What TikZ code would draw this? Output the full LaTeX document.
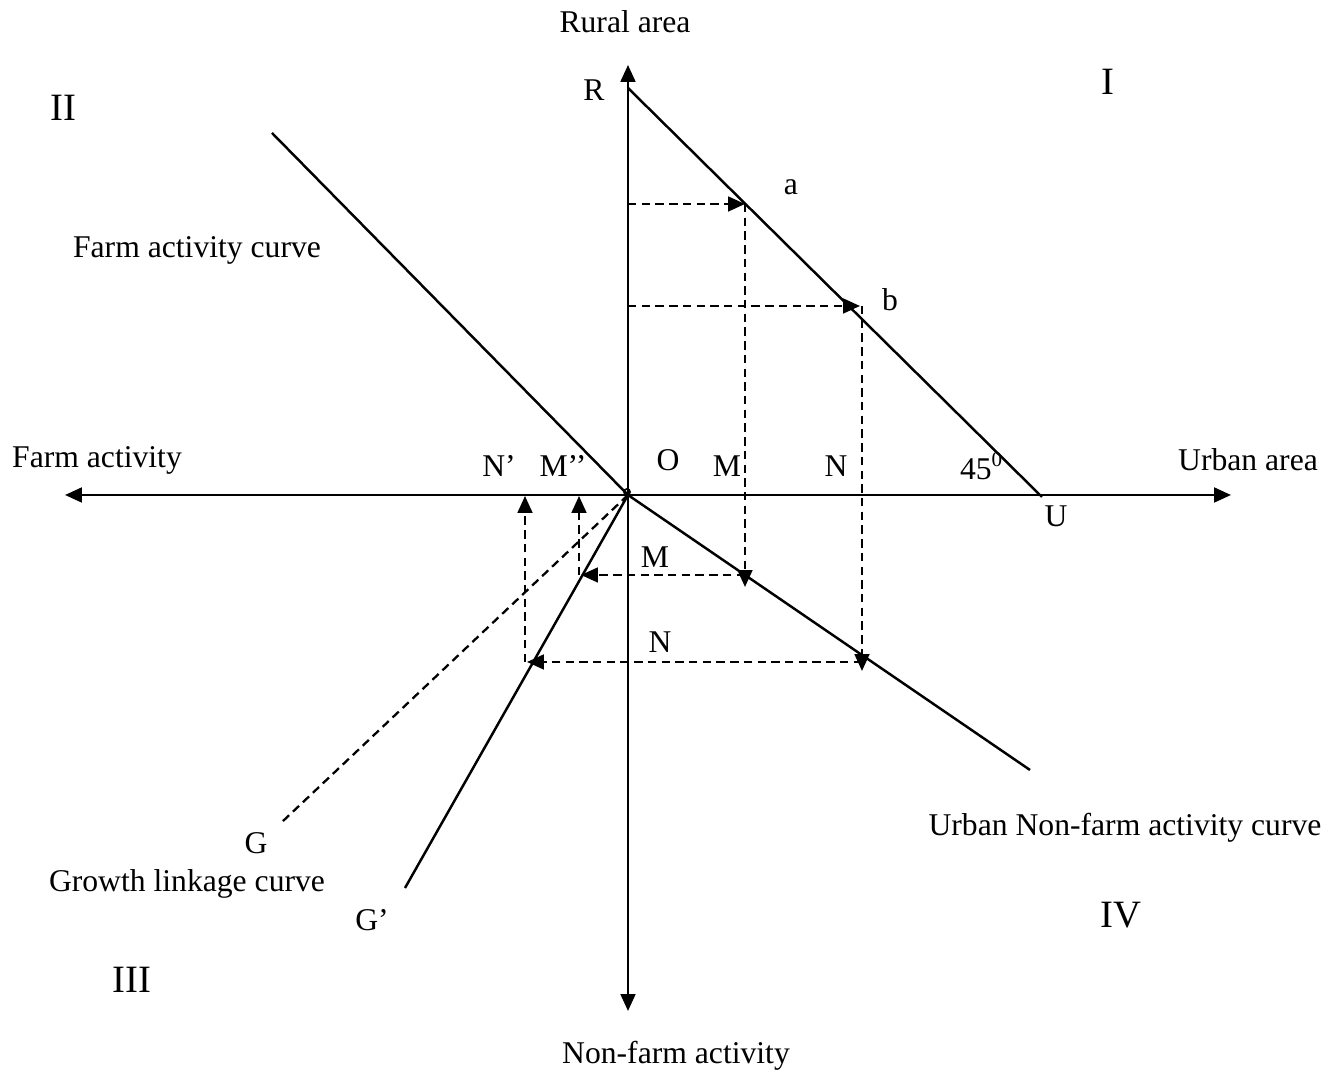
\documentclass[tikz,border=0pt]{standalone}
\usepackage{fontspec}
\setmainfont{Liberation Serif}
\usetikzlibrary{arrows.meta}
\begin{document}
\begin{tikzpicture}[x=0.01cm,y=-0.01cm,>={Triangle[length=4.8pt,width=4.2pt]},
  axis/.style={line width=0.7pt,<->},
  curve/.style={line width=0.7pt},
  guide/.style={line width=0.65pt,dash pattern=on 2.4pt off 1.5pt},
  lbl/.style={font=\fontsize{9}{11}\selectfont,inner sep=0pt},
  quad/.style={font=\fontsize{11}{13}\selectfont,inner sep=0pt}]
  \useasboundingbox (0,0) rectangle (1344,1077);
  % axes
  \coordinate (O) at (628,495);
  \coordinate (top) at (628,65);
  \coordinate (bot) at (628,1011);
  \coordinate (lft) at (65,495);
  \coordinate (rgt) at (1231,495);
  \draw[axis] (top) -- (bot);
  \draw[axis] (lft) -- (rgt);
  \draw[line width=0.5pt] (O) ++(-1,-3) circle (3);
  % curves
  \coordinate (R) at (628,88);
  \coordinate (U) at (1042,497);
  \coordinate (F) at (272,133);
  \coordinate (D) at (1030,770);
  \coordinate (G) at (282,822);
  \coordinate (Gp) at (405,888);
  \draw[curve] (R) -- (U);
  \draw[curve] (F) -- (O) -- (D);
  \draw[curve] (O) -- (Gp);
  \draw[guide] (O) -- (G);
  % point a
  \coordinate (ya) at (628,204);
  \coordinate (a) at (745,204);
  \coordinate (am) at (745,587);
  \coordinate (ma) at (745,575);
  \coordinate (ml) at (581,575);
  \coordinate (mb) at (579,575);
  \coordinate (mt) at (579,496);
  \draw[guide,->] (ya) -- (a);
  \draw[guide,->] (a) -- (am);
  \draw[guide,->] (ma) -- (ml);
  \draw[guide,->] (mb) -- (mt);
  % point b
  \coordinate (yb) at (628,306);
  \coordinate (b) at (860,306);
  \coordinate (bs) at (862,306);
  \coordinate (bn) at (862,671);
  \coordinate (na) at (862,662);
  \coordinate (nl) at (527,662);
  \coordinate (nb) at (525,662);
  \coordinate (nt) at (525,496);
  \draw[guide,->] (yb) -- (b);
  \draw[guide,->] (bs) -- (bn);
  \draw[guide,->] (na) -- (nl);
  \draw[guide,->] (nb) -- (nt);
  % labels
  \node[lbl] (lrural) at (625,22) {Rural area};
  \node[lbl] (lnonfarm) at (676,1056) {Non-farm activity};
  \node[lbl] (lfarm) at (97,460) {Farm activity};
  \node[lbl] (lurban) at (1248,460) {Urban area};
  \node[quad] (q1) at (1108,82) {I};
  \node[quad] (q2) at (63,108) {II};
  \node[quad] (q3) at (132,980) {III};
  \node[quad] (q4) at (1121,915) {IV};
  \node[lbl] (lfc) at (197,250) {Farm activity curve};
  \node[lbl] (luc) at (1125,828) {Urban Non-farm activity curve};
  \node[lbl] (lgc) at (187,884) {Growth linkage curve};
  \node[lbl] (lG) at (256,843) {G};
  \node[lbl] (lGp) at (372,920) {G’};
  \node[lbl] (lNp) at (499,466) {N’};
  \node[lbl] (lMpp) at (563,466) {M’’};
  \node[lbl] (lO) at (668,460) {O};
  \node[lbl] (lM) at (727,466) {M};
  \node[lbl] (lN) at (836,466) {N};
  \node[lbl] (l45) at (982,466) {45\textsuperscript{0}};
  \node[lbl] (lR) at (594,90) {R};
  \node[lbl] (lU) at (1056,516) {U};
  \node[lbl] (la) at (791,187) {a};
  \node[lbl] (lb) at (890,300) {b};
  \node[lbl] (lM2) at (655,557) {M};
  \node[lbl] (lN2) at (660,642) {N};
\end{tikzpicture}
\end{document}
